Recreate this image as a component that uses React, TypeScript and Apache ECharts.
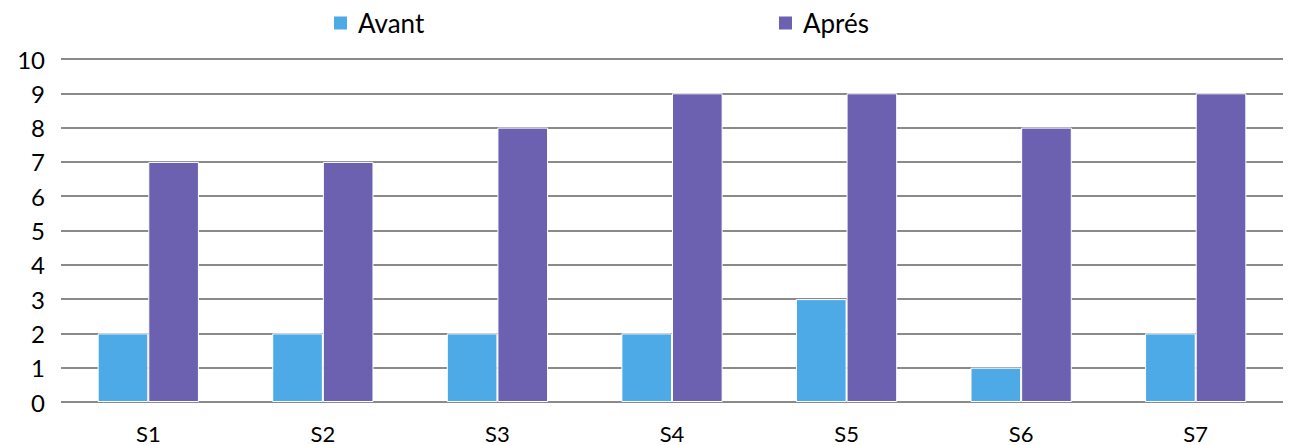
import React, { useEffect, useRef } from "react";
import * as echarts from "echarts";

const categories = ["S1", "S2", "S3", "S4", "S5", "S6", "S7"];
const avant = [2, 2, 2, 2, 3, 1, 2];
const apres = [7, 7, 8, 9, 9, 8, 9];
const seriesNames = ["Avant", "Aprés"];
const colors = ["#4DAAE7", "#6C61B0"];

const FONT = "Lato, 'Noto Sans', sans-serif";

export default function App() {
  const ref = useRef<HTMLDivElement>(null);
  useEffect(() => {
    if (!ref.current) return;
    const chart = echarts.init(ref.current, undefined, { renderer: "svg" });
    const legendBase = {
      icon: "rect",
      itemWidth: 15,
      itemHeight: 15,
      top: 10,
      padding: 0,
      textStyle: { fontSize: 26, color: "#000", fontFamily: FONT, padding: [0, 0, 0, 5] },
      selectedMode: false,
    };
    chart.setOption({
      animation: false,
      backgroundColor: "#fff",
      legend: [
        { ...legendBase, data: [seriesNames[0]], left: 332 },
        { ...legendBase, data: [seriesNames[1]], left: 777 },
      ],
      grid: { left: 61, right: 7, top: 59, bottom: 43, containLabel: false },
      xAxis: {
        type: "category",
        data: categories,
        axisLine: { show: false },
        axisTick: { show: false },
        axisLabel: { fontSize: 22, color: "#000", fontFamily: FONT, margin: 20 },
      },
      yAxis: {
        type: "value",
        min: 0,
        max: 10,
        interval: 1,
        axisLine: { show: false },
        axisTick: { show: false },
        axisLabel: { fontSize: 24, color: "#000", fontFamily: FONT, margin: 16 },
        splitLine: { lineStyle: { color: "#8A8A8A", width: 2 } },
      },
      series: [
        {
          name: seriesNames[0],
          type: "bar",
          data: avant,
          itemStyle: { color: colors[0], borderColor: "#fff", borderWidth: 1 },
          barGap: "0%",
          barCategoryGap: "42%",
        },
        {
          name: seriesNames[1],
          type: "bar",
          data: apres,
          itemStyle: { color: colors[1], borderColor: "#fff", borderWidth: 1 },
          barGap: "0%",
          barCategoryGap: "42%",
        },
      ],
    });
    return () => chart.dispose();
  }, []);
  return (
    <div
      ref={ref}
      style={{ position: "absolute", left: 0, top: 0, width: 1290, height: 445 }}
    />
  );
}
